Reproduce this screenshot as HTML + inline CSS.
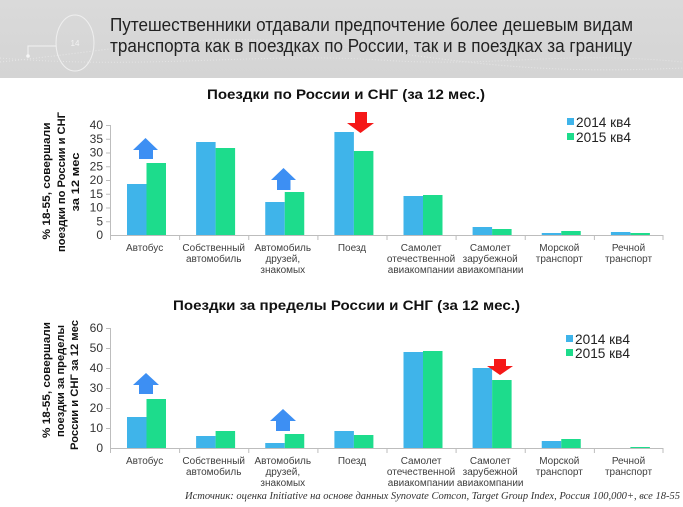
<!DOCTYPE html>
<html><head><meta charset="utf-8"><style>
html,body{margin:0;padding:0;background:#fff;}
svg{display:block;}
text{font-family:"Liberation Sans",Arial,sans-serif;}
</style></head><body>
<svg width="683" height="507" viewBox="0 0 683 507" xmlns="http://www.w3.org/2000/svg">
<defs>
<linearGradient id="hg" x1="0" y1="0" x2="0" y2="1">
<stop offset="0" stop-color="#dadada"/><stop offset="1" stop-color="#d4d4d4"/>
</linearGradient>
</defs>
<!-- header -->
<rect x="0" y="0" width="683" height="78" fill="url(#hg)"/>
<path d="M0,62 C120,50 200,30 330,45 S520,75 683,68" fill="none" stroke="#e6e6e6" stroke-width="1" stroke-dasharray="1,2"/>
<path d="M0,58 C150,70 260,52 380,60 S560,50 683,62" fill="none" stroke="#e4e4e4" stroke-width="1" stroke-dasharray="1,2"/>
<ellipse cx="75" cy="43" rx="19" ry="28" fill="none" stroke="#efefef" stroke-width="1"/>
<text x="75" y="46" font-size="8" fill="#f2f2f2" text-anchor="middle">14</text>
<polyline points="28,56 28,46 56,46" fill="none" stroke="#f2f2f2" stroke-width="1"/>
<circle cx="28" cy="56" r="1.8" fill="#f6f6f6"/>
<text x="110" y="31" font-size="18" fill="#222" textLength="523" lengthAdjust="spacingAndGlyphs">Путешественники отдавали предпочтение более дешевым видам</text>
<text x="110" y="52" font-size="18" fill="#222" textLength="522" lengthAdjust="spacingAndGlyphs">транспорта как в поездках по России, так и в поездках за границу</text>

<!-- TOP CHART -->
<text x="346" y="99" font-size="14" font-weight="bold" fill="#111" text-anchor="middle" textLength="278" lengthAdjust="spacingAndGlyphs">Поездки по России и СНГ (за 12 мес.)</text>
<g font-size="11" font-weight="bold" fill="#111" text-anchor="middle">
<text transform="translate(50,181) rotate(-90)" textLength="117" lengthAdjust="spacingAndGlyphs">% 18-55, совершали</text>
<text transform="translate(65,182) rotate(-90)" textLength="140" lengthAdjust="spacingAndGlyphs">поездки по России и СНГ</text>
<text transform="translate(79,182) rotate(-90)" textLength="59" lengthAdjust="spacingAndGlyphs">за 12 мес</text>
</g>
<g font-size="12" fill="#333" text-anchor="end">
<text x="103" y="129">40</text><text x="103" y="142.75">35</text><text x="103" y="156.5">30</text><text x="103" y="170.25">25</text>
<text x="103" y="184">20</text><text x="103" y="197.75">15</text><text x="103" y="211.5">10</text><text x="103" y="225.25">5</text><text x="103" y="239">0</text>
</g>
<g stroke="#bdbdbd" stroke-width="1" fill="none">
<line x1="110.5" y1="125" x2="110.5" y2="235"/>
<line x1="110" y1="235.5" x2="663" y2="235.5"/>
<path d="M106,125.5h4M106,139.25h4M106,153h4M106,166.75h4M106,180.5h4M106,194.25h4M106,208h4M106,221.75h4"/>
<path d="M110.5,235v5M179.6,235v5M248.75,235v5M317.9,235v5M387,235v5M456.1,235v5M525.25,235v5M594.4,235v5M663,235v5"/>
</g>
<g fill="#3fb4ea">
<rect x="127" y="184" width="19.5" height="51"/>
<rect x="196.1" y="142" width="19.5" height="93"/>
<rect x="265.25" y="202" width="19.5" height="33"/>
<rect x="334.4" y="132" width="19.5" height="103"/>
<rect x="403.5" y="196" width="19.5" height="39"/>
<rect x="472.6" y="227" width="19.5" height="8"/>
<rect x="541.75" y="233" width="19.5" height="2"/>
<rect x="610.9" y="232" width="19.5" height="3"/>
</g>
<g fill="#1ddc8c">
<rect x="146.5" y="163" width="19.5" height="72"/>
<rect x="215.6" y="148" width="19.5" height="87"/>
<rect x="284.75" y="192" width="19.5" height="43"/>
<rect x="353.9" y="151" width="19.5" height="84"/>
<rect x="423" y="195" width="19.5" height="40"/>
<rect x="492.1" y="229" width="19.5" height="6"/>
<rect x="561.25" y="231" width="19.5" height="4"/>
<rect x="630.4" y="233" width="19.5" height="2"/>
</g>
<!-- arrows top -->
<polygon points="145.5,138 158,150 153,150 153,159 139,159 139,150 133,150" fill="#3d8ff3"/>
<polygon points="283.5,168 296,180 290.5,180 290.5,190 277,190 277,180 271,180" fill="#3d8ff3"/>
<polygon points="355,112 367,112 367,123 374,123 360.5,133 347,123 355,123" fill="#f51818"/>
<!-- legend top -->
<rect x="567" y="118" width="7" height="7" fill="#3fb4ea"/>
<rect x="567" y="133" width="7" height="7" fill="#1ddc8c"/>
<text x="576" y="127" font-size="14" fill="#222" textLength="55" lengthAdjust="spacingAndGlyphs">2014 кв4</text>
<text x="576" y="142" font-size="14" fill="#222" textLength="55" lengthAdjust="spacingAndGlyphs">2015 кв4</text>
<!-- category labels top -->
<g font-size="10" fill="#404040" text-anchor="middle">
<text x="144.6" y="251">Автобус</text>
<text x="213.7" y="251">Собственный</text><text x="213.7" y="262">автомобиль</text>
<text x="282.8" y="251">Автомобиль</text><text x="282.8" y="262">друзей,</text><text x="282.8" y="273">знакомых</text>
<text x="352" y="251">Поезд</text>
<text x="421.1" y="251">Самолет</text><text x="421.1" y="262">отечественной</text><text x="421.1" y="273">авиакомпании</text>
<text x="490.2" y="251">Самолет</text><text x="490.2" y="262">зарубежной</text><text x="490.2" y="273">авиакомпании</text>
<text x="559.3" y="251">Морской</text><text x="559.3" y="262">транспорт</text>
<text x="628.5" y="251">Речной</text><text x="628.5" y="262">транспорт</text>
</g>

<!-- BOTTOM CHART -->
<text x="346.5" y="310" font-size="14" font-weight="bold" fill="#111" text-anchor="middle" textLength="347" lengthAdjust="spacingAndGlyphs">Поездки за пределы России и СНГ (за 12 мес.)</text>
<g font-size="11" font-weight="bold" fill="#111" text-anchor="middle">
<text transform="translate(50,380) rotate(-90)" textLength="116" lengthAdjust="spacingAndGlyphs">% 18-55, совершали</text>
<text transform="translate(64,381) rotate(-90)" textLength="112" lengthAdjust="spacingAndGlyphs">поездки за пределы</text>
<text transform="translate(78,385) rotate(-90)" textLength="130" lengthAdjust="spacingAndGlyphs">России и СНГ за 12 мес</text>
</g>
<g font-size="12" fill="#333" text-anchor="end">
<text x="103" y="332">60</text><text x="103" y="352">50</text><text x="103" y="372">40</text><text x="103" y="392">30</text>
<text x="103" y="412">20</text><text x="103" y="432">10</text><text x="103" y="452">0</text>
</g>
<g stroke="#bdbdbd" stroke-width="1" fill="none">
<line x1="110.5" y1="328" x2="110.5" y2="448"/>
<line x1="110" y1="448.5" x2="663" y2="448.5"/>
<path d="M106,328.5h4M106,348.5h4M106,368.5h4M106,388.5h4M106,408.5h4M106,428.5h4"/>
<path d="M110.5,448v5M179.6,448v5M248.75,448v5M317.9,448v5M387,448v5M456.1,448v5M525.25,448v5M594.4,448v5M663,448v5"/>
</g>
<g fill="#3fb4ea">
<rect x="127" y="417" width="19.5" height="31"/>
<rect x="196.1" y="436" width="19.5" height="12"/>
<rect x="265.25" y="443" width="19.5" height="5"/>
<rect x="334.4" y="431" width="19.5" height="17"/>
<rect x="403.5" y="352" width="19.5" height="96"/>
<rect x="472.6" y="368" width="19.5" height="80"/>
<rect x="541.75" y="441" width="19.5" height="7"/>
</g>
<g fill="#1ddc8c">
<rect x="146.5" y="399" width="19.5" height="49"/>
<rect x="215.6" y="431" width="19.5" height="17"/>
<rect x="284.75" y="434" width="19.5" height="14"/>
<rect x="353.9" y="435" width="19.5" height="13"/>
<rect x="423" y="351" width="19.5" height="97"/>
<rect x="492.1" y="380" width="19.5" height="68"/>
<rect x="561.25" y="439" width="19.5" height="9"/>
<rect x="630.4" y="447" width="19.5" height="1"/>
</g>
<!-- arrows bottom -->
<polygon points="146,373 159,385 153,385 153,394 139,394 139,385 133,385" fill="#3d8ff3"/>
<polygon points="283,409 296,421 290,421 290,431 276,431 276,421 270,421" fill="#3d8ff3"/>
<polygon points="494,359 506,359 506,366 513,366 500,375 487,366 494,366" fill="#f51818"/>
<!-- legend bottom -->
<rect x="566" y="335" width="7" height="7" fill="#3fb4ea"/>
<rect x="566" y="349" width="7" height="7" fill="#1ddc8c"/>
<text x="575" y="344" font-size="14" fill="#222" textLength="55" lengthAdjust="spacingAndGlyphs">2014 кв4</text>
<text x="575" y="358" font-size="14" fill="#222" textLength="55" lengthAdjust="spacingAndGlyphs">2015 кв4</text>
<g font-size="10" fill="#404040" text-anchor="middle">
<text x="144.6" y="464">Автобус</text>
<text x="213.7" y="464">Собственный</text><text x="213.7" y="475">автомобиль</text>
<text x="282.8" y="464">Автомобиль</text><text x="282.8" y="475">друзей,</text><text x="282.8" y="486">знакомых</text>
<text x="352" y="464">Поезд</text>
<text x="421.1" y="464">Самолет</text><text x="421.1" y="475">отечественной</text><text x="421.1" y="486">авиакомпании</text>
<text x="490.2" y="464">Самолет</text><text x="490.2" y="475">зарубежной</text><text x="490.2" y="486">авиакомпании</text>
<text x="559.3" y="464">Морской</text><text x="559.3" y="475">транспорт</text>
<text x="628.5" y="464">Речной</text><text x="628.5" y="475">транспорт</text>
</g>
<text x="185" y="499" font-size="10.5" font-style="italic" fill="#333" style="font-family:'Liberation Serif',serif" textLength="495" lengthAdjust="spacingAndGlyphs">Источник: оценка Initiative на основе данных Synovate Comcon, Target Group Index, Россия 100,000+, все 18-55</text>
</svg>
</body></html>
